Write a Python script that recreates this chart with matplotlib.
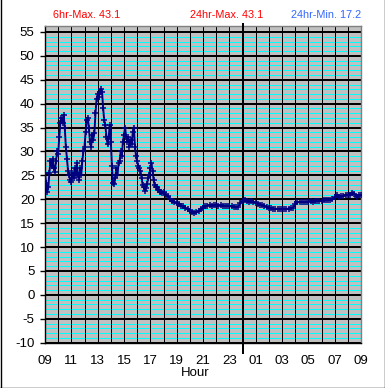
import numpy as np
import matplotlib
matplotlib.use("Agg")
import matplotlib.pyplot as plt
from matplotlib.lines import Line2D

# ---- data ----
# 5-minute readings 09:00 -> 18:00
temps_day = [
    25.4, 23.5, 21.5, 22.5, 25.5, 28.0, 27.0, 28.5, 26.5, 25.8, 28.0, 30.0,
    29.5, 33.0, 36.0, 37.0, 36.0, 37.7, 35.0, 31.0, 28.5, 26.0, 25.0, 24.0,
    23.6, 25.5, 24.5, 26.5, 25.0, 27.5, 25.0, 24.0, 26.5, 25.0, 28.0, 30.0,
    31.0, 34.0, 36.6, 37.0, 35.0, 32.0, 31.0, 33.5, 32.5, 33.8, 38.0, 41.0,
    42.0, 41.5, 42.5, 43.1, 42.5, 39.0, 36.5, 35.5, 33.0, 31.5, 33.0, 35.5,
    32.0, 27.0, 23.5, 23.2, 24.5, 26.5, 25.0, 27.5, 28.0, 30.0, 29.0, 32.0,
    33.5, 35.0, 33.0, 32.0, 33.0, 31.0, 32.5, 31.5, 34.0, 35.0, 31.0, 29.0,
    28.0, 27.0, 26.5, 26.0, 24.5, 23.0, 22.5, 21.8, 22.3, 23.2, 24.5, 25.0,
    26.5, 27.5, 26.0, 24.0, 23.0, 22.5, 22.5, 22.0, 22.0, 21.6, 21.5, 21.3,
]
# 10-minute readings 18:00 -> 09:00 next day
temps_night = [
    21.5, 21.0, 20.6, 20.0, 19.6, 19.4,
    19.2, 19.0, 18.7, 18.5, 18.2, 17.9, 17.6, 17.3, 17.2, 17.3, 17.6, 17.9,
    18.2, 18.5, 18.7, 18.8, 18.7, 18.8, 18.9, 18.7, 18.8, 18.6, 18.6, 18.7,
    18.6, 18.5, 18.4, 18.3, 18.4, 19.2, 19.7, 19.8, 19.6, 19.4, 19.6, 19.5,
    19.2, 19.0, 18.9, 18.8, 18.6, 18.4, 18.2, 18.1, 18.0, 18.0, 18.0, 17.9,
    18.0, 18.0, 18.0, 18.0, 18.1, 18.2, 19.0, 19.4, 19.4, 19.5, 19.4, 19.5,
    19.5, 19.6, 19.5, 19.6, 19.7, 19.7, 19.7, 19.8, 19.8, 19.8, 19.9, 20.0,
    20.4, 20.8, 20.5, 20.7, 20.6, 21.0, 20.9, 21.0, 21.4, 21.2, 20.4, 20.9,
    20.8,
]
x_tick_labels = ["09", "11", "13", "15", "17", "19", "21", "23",
                 "01", "03", "05", "07", "09"]
y_ticks = [-10, -5, 0, 5, 10, 15, 20, 25, 30, 35, 40, 45, 50, 55]
stat_texts = ["6hr-Max. 43.1", "24hr-Max. 43.1", "24hr-Min. 17.2"]
stat_colors = ["#ff0000", "#ff0000", "#3366ff"]
midnight_hour = 15

hours = np.concatenate([
    np.arange(len(temps_day)) * 5 / 60.0,
    9 + np.arange(len(temps_night)) * 10 / 60.0,
])
temps = np.array(temps_day + temps_night)

W, H = 385, 388
plt.rcParams['font.family'] = ['Liberation Sans', 'DejaVu Sans']
fig = plt.figure(figsize=(W / 100, H / 100), dpi=100)

PX = 0.72  # one pixel in points

left, right, top, bottom = 45, 361, 26, 342.7
ax = fig.add_axes([left / W, 1 - bottom / H, (right - left) / W, (bottom - top) / H])
ax.set_facecolor("#c0c0c0")
ax.set_xlim(0, 24)
ax.set_ylim(-10, 56.25)

for v in range(-9, 56):
    if v % 5 != 0:
        ax.axhline(v, color="#00ffff", lw=PX, zorder=1, antialiased=False)
for v in y_ticks:
    ax.axhline(v, color="black", lw=2 * PX, zorder=2, antialiased=False)
for h in range(1, 24):
    ax.axvline(h, color="black", lw=PX, zorder=2, antialiased=False)

ax.axvline(midnight_hour, ymin=-0.0325, ymax=1.007, color="black", lw=2 * PX,
           zorder=3, clip_on=False, antialiased=False)

ax.plot(hours, temps, color="#000080", lw=1.4, marker="+", ms=4, mew=1.1,
        zorder=4)

ax.set_yticks(y_ticks)
ax.set_yticklabels([str(v) for v in y_ticks])
ax.set_xticks(np.arange(0, 25, 2))
ax.set_xticklabels(x_tick_labels)
ax.tick_params(axis="y", length=3.5, width=1, pad=4, labelsize=9.5, color="black")
ax.tick_params(axis="x", length=0, pad=9, labelsize=9.5)

for s in ["top", "right"]:
    ax.spines[s].set_color("#808080")
    ax.spines[s].set_linewidth(1)
for s in ["left", "bottom"]:
    ax.spines[s].set_color("black")
    ax.spines[s].set_linewidth(1)

fig.text(195 / W, 1 - 373 / H, "Hour", ha="center", va="center", fontsize=9.5)

xs = [87, 227, 326]
for x, t, c in zip(xs, stat_texts, stat_colors):
    fig.text(x / W, 1 - 15 / H, t, ha="center", va="center", fontsize=7.8, color=c)

for xy in [([0.5 / W, 0.5 / W], [0, 1]), ([1 - 0.5 / W, 1 - 0.5 / W], [0, 1]),
           ([0, 1], [0.5 / H, 0.5 / H])]:
    fig.add_artist(Line2D(xy[0], xy[1], transform=fig.transFigure, color="black", lw=1))

fig.savefig("out.png", dpi=100)
